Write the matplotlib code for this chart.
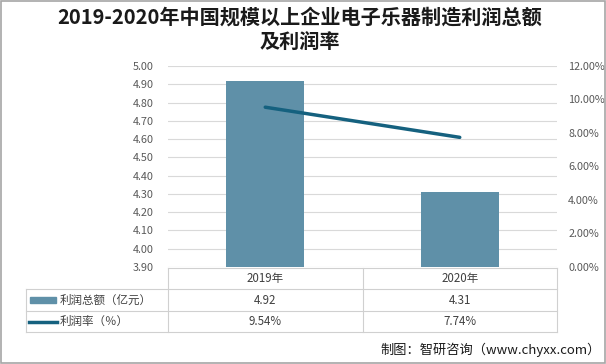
import numpy as np
import matplotlib
matplotlib.use("Agg")
import matplotlib.pyplot as plt
from matplotlib.patches import Rectangle
from matplotlib.lines import Line2D

plt.rcParams['font.family'] = ['Noto Sans CJK SC', 'DejaVu Sans']

# data
years = ["2019年", "2020年"]
profit = [4.92, 4.31]          # 利润总额（亿元）
rate = [9.54, 7.74]            # 利润率（%）
series_names = ["利润总额（亿元）", "利润率（％）"]
title = "2019-2020年中国规模以上企业电子乐器制造利润总额\n及利润率"
source = "制图：智研咨询（www.chyxx.com）"

BAR_C = "#5f90a8"
LINE_C = "#15617f"
GRID_C = "#d9d9d9"
TXT_C = "#595959"

W, H = 606, 364
fig = plt.figure(figsize=(W / 100, H / 100), dpi=100)

def fx(px): return px / W
def fy(py): return 1 - py / H

# plot area in pixels
L, R, T, B = 168, 557, 66, 267
ax = fig.add_axes([fx(L), fy(B), fx(R - L), fy(T) - fy(B)])
x = np.arange(len(years))
ax.bar(x, profit, width=0.4, color=BAR_C, zorder=2)
ax.set_xlim(-0.5, len(years) - 0.5)
ax.set_ylim(3.9, 5.0)
ax.set_yticks(np.arange(3.9, 5.0001, 0.1))
ax.set_yticklabels([f"{v:.2f}" for v in np.arange(3.9, 5.0001, 0.1)])
ax.grid(axis="y", color=GRID_C, lw=0.8, zorder=0)
ax.set_xticks([])
for s in ax.spines.values():
    s.set_visible(False)
ax.tick_params(axis="y", length=0, pad=10, labelsize=7.8, labelcolor=TXT_C)

ax2 = ax.twinx()
ax2.plot(x, rate, color=LINE_C, lw=2.5, solid_capstyle="round", zorder=3)
ax2.set_ylim(0, 12)
ax2.set_yticks(np.arange(0, 12.01, 2))
ax2.set_yticklabels([f"{v:.2f}%" for v in np.arange(0, 12.01, 2)])
for s in ax2.spines.values():
    s.set_visible(False)
ax2.tick_params(axis="y", length=0, pad=8, labelsize=7.8, labelcolor=TXT_C)

# data table below the plot
TL = 26
rows_y = [268, 289, 311, 332]
tcol = "#d0d0d0"
col_edges = [L + i * (R - L) / len(years) for i in range(len(years) + 1)]
fig.add_artist(Line2D([fx(L), fx(R)], [fy(rows_y[0]), fy(rows_y[0])], color=tcol, lw=0.8))
for yy in rows_y[1:]:
    fig.add_artist(Line2D([fx(TL), fx(R)], [fy(yy), fy(yy)], color=tcol, lw=0.8))
for xe in col_edges:
    fig.add_artist(Line2D([fx(xe), fx(xe)], [fy(rows_y[0]), fy(rows_y[-1])], color=tcol, lw=0.8))
fig.add_artist(Line2D([fx(TL), fx(TL)], [fy(rows_y[1]), fy(rows_y[-1])], color=tcol, lw=0.8))

cell_vals = [[f"{v:.2f}" for v in profit], [f"{v:.2f}%" for v in rate]]
for i, yr in enumerate(years):
    cx = (col_edges[i] + col_edges[i + 1]) / 2
    fig.text(fx(cx), fy((rows_y[0] + rows_y[1]) / 2), yr, ha="center", va="center",
             fontsize=8.3, color="#404040")
    for r in range(2):
        fig.text(fx(cx), fy((rows_y[r + 1] + rows_y[r + 2]) / 2), cell_vals[r][i],
                 ha="center", va="center", fontsize=8.3, color="#404040")

# legend keys in table
ym1 = (rows_y[1] + rows_y[2]) / 2
ym2 = (rows_y[2] + rows_y[3]) / 2
fig.add_artist(Rectangle((fx(30), fy(ym1 + 3)), fx(26), fy(ym1 - 3) - fy(ym1 + 3), color=BAR_C))
fig.add_artist(Line2D([fx(29), fx(57)], [fy(ym2), fy(ym2)], color=LINE_C, lw=2.5))
fig.text(fx(60), fy(ym1), series_names[0], ha="left", va="center", fontsize=8.3, color="#404040")
fig.text(fx(60), fy(ym2), series_names[1], ha="left", va="center", fontsize=8.3, color="#404040")

fig.text(fx(300), fy(7), title, ha="center", va="top", fontsize=14.5, fontweight="bold",
         color="#1a1a1a", linespacing=1.25)
fig.text(fx(601), fy(350), source, ha="right", va="center", fontsize=9.5, color="#1a1a1a")

# outer frame
fig.add_artist(Rectangle((0.001, 0.002), 0.997, 0.995, fill=False, ec="#a6a6a6", lw=1.2))

fig.savefig("out.png", dpi=100)
